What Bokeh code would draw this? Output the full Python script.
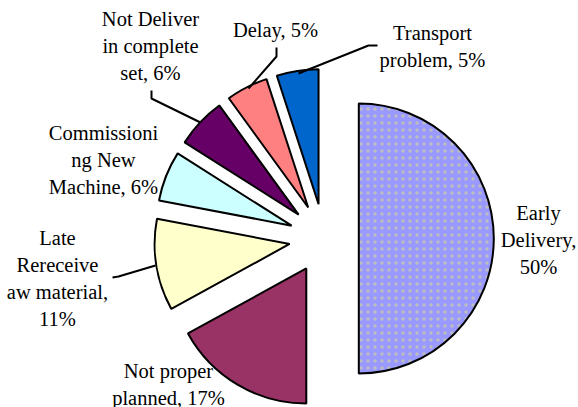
import math
from bokeh.plotting import figure
from bokeh.models import Range1d
from bokeh.core.properties import value
from bokeh.embed import file_html
from bokeh.resources import INLINE

# ---- data ----
categories = ["Early Delivery", "Not proper planned", "Late Rereceive aw material",
              "Commissioning New Machine", "Not Deliver in complete set", "Delay",
              "Transport problem"]
percent = [50, 17, 11, 6, 6, 5, 5]
colors = ["#9999FF", "#993366", "#FFFFCC", "#CCFFFF", "#660066", "#FF8080", "#0066CC"]
label_lines = [
    ["Early", "Delivery,", "50%"],
    ["Not proper", "planned, 17%"],
    ["Late", "Rereceive", "aw material,", "11%"],
    ["Commissioni", "ng New", "Machine, 6%"],
    ["Not Deliver", "in complete", "set, 6%"],
    ["Delay, 5%"],
    ["Transport", "problem, 5%"],
]

# ---- layout (picture pixel coords, y downward) ----
PAGE_W, PAGE_H = 578, 407
def Y(y):
    return PAGE_H - y

CX, CY = 323.5, Y(238)
R = 135
EXPLODE = 34.8
LINE_GAP = 27
label_pos = [(538, 212), (168, 370), (57, 237), (103, 132), (150, 18), (275, 29), (432, 32)]
leaders = {
    6: [(298, 73), (368, 45), (377, 45)],
    5: [(248, 88), (276, 56), (276, 47)],
    4: [(200, 122), (151, 98), (151, 90)],
    2: [(155, 265), (118, 276), (112, 277)],
}

p = figure(width=PAGE_W, height=PAGE_H, output_backend="svg", toolbar_location=None,
           x_range=Range1d(0, PAGE_W), y_range=Range1d(0, PAGE_H),
           min_border=0, match_aspect=False)
p.axis.visible = False
p.grid.visible = False
p.outline_line_color = None
p.background_fill_color = "white"
p.border_fill_color = "white"

total = float(sum(percent))
cum = 0.0
for i, (v, c) in enumerate(zip(percent, colors)):
    s = cum / total
    e = (cum + v) / total
    cum += v
    a_start = math.radians(90 - 360 * e)
    a_end = math.radians(90 - 360 * s)
    mid = (a_start + a_end) / 2
    x0 = CX + EXPLODE * math.cos(mid)
    y0 = CY + EXPLODE * math.sin(mid)
    kw = dict(x=[x0], y=[y0], radius=R, start_angle=[a_start], end_angle=[a_end],
              fill_color=c, line_color="black", line_width=2)
    if i == 0:
        kw.update(hatch_pattern="dot", hatch_color="#BDBDBD", hatch_scale=7, hatch_weight=3)
    p.wedge(**kw)

for i, pts in leaders.items():
    p.line([q[0] for q in pts], [Y(q[1]) for q in pts], line_color="black", line_width=2)

for lines, (lx, ly) in zip(label_lines, label_pos):
    xs = [lx] * len(lines)
    ys = [Y(ly + k * LINE_GAP) for k in range(len(lines))]
    p.text(x=xs, y=ys, text=lines, text_font=value("'Liberation Serif', 'Times New Roman', serif"),
           text_font_size="20.5px", text_align="center", text_baseline="middle",
           text_color="black")

open("out.html", "w").write(file_html(p, INLINE))
